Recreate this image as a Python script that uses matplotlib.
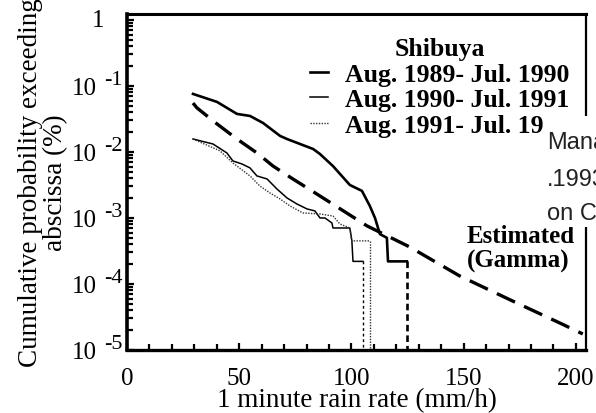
import matplotlib

matplotlib.use("Agg")
import matplotlib.pyplot as plt
from matplotlib.lines import Line2D
from matplotlib.patches import Rectangle
from matplotlib.ticker import FixedLocator, LogLocator, MultipleLocator, NullFormatter

plt.rcParams["font.family"] = ["Liberation Serif", "DejaVu Serif"]

# measured 1-minute rain rate exceedance, Shibuya
rate_8990 = [29.4, 40.1, 49.0, 54.8, 60.6, 68.2, 71.3, 77.1, 82.9, 86.0, 91.8, 99.3,
             104.7, 108.2, 110.5, 112.7, 115.8, 116.3, 124.7]
prob_8990 = [0.0757, 0.0573, 0.0377, 0.0351, 0.0275, 0.0175, 0.0157, 0.0132, 0.0111,
             0.0093, 0.0061, 0.00316, 0.00257, 0.00152, 0.0010, 0.00057, 0.0005,
             0.00022, 0.00022]

rate_9091 = [29.4, 38.3, 44.5, 47.2, 51.2, 54.8, 57.9, 62.4, 66.8, 71.3, 75.7, 80.2,
             83.7, 86.0, 88.2, 91.3, 91.8, 99.3, 100.2, 100.7, 105.1]
prob_9091 = [0.0157, 0.0132, 0.00966, 0.0073, 0.00658, 0.00573, 0.00433, 0.0039,
             0.00275, 0.00201, 0.00163, 0.00137, 0.00128, 0.0010, 0.0010, 0.00084,
             0.000705, 0.000705, 0.000449, 0.00022, 0.00022]

rate_9192 = [29.4, 41.4, 47.2, 54.8, 59.2, 63.7, 68.2, 72.6, 78.4, 86.0, 91.8, 94.9,
             99.3, 100.2, 108.2]
prob_9192 = [0.0157, 0.0104, 0.0068, 0.00433, 0.00305, 0.00239, 0.00194, 0.00152,
             0.00119, 0.00115, 0.00107, 0.00081, 0.000705, 0.00045, 0.00045]

# estimated gamma fit
rate_est = [29.4, 31.2, 40.1, 49.0, 57.9, 65.0, 73.9, 82.4, 106.9, 126.0, 148.3,
            173.7, 192.9, 203.1]
prob_est = [0.055, 0.0464, 0.0266, 0.0157, 0.00966, 0.00614, 0.0039, 0.00257,
            0.00076, 0.000363, 0.000132, 5.15e-5, 2.56e-5, 1.75e-5]

labels = ["Aug. 1989- Jul. 1990", "Aug. 1990- Jul. 1991", "Aug. 1991- Jul. 1992"]
y_ticks = [1e-5, 1e-4, 1e-3, 1e-2, 1e-1, 1]
y_exponents = ["-5", "-4", "-3", "-2", "-1", ""]
x_ticks = [0, 50, 100, 150, 200]

fig = plt.figure(figsize=(5.96, 4.14), dpi=100)
ax = fig.add_axes([0.2131, 0.1522, 0.770, 0.8116])
ax.set_yscale("log")
ymin = 1e-5

ax.plot(rate_8990, prob_8990, color="black", lw=1.9)
ax.plot([rate_8990[-1]] * 2, [prob_8990[-1], ymin], color="black", lw=1.9, dashes=(2.5, 1.5))
ax.plot(rate_9091, prob_9091, color="black", lw=1.1)
ax.plot([rate_9091[-1]] * 2, [prob_9091[-1], ymin], color="black", lw=1.0, dashes=(2, 2))
ax.plot(rate_9192, prob_9192, color="#333333", lw=1.0, ls=(0, (1, 1)))
ax.plot([rate_9192[-1]] * 2, [prob_9192[-1], ymin], color="#333333", lw=1.0, ls=(0, (1, 1)))
ax.plot(rate_est, prob_est, color="black", lw=2.4, dashes=(6, 3))

ax.set_xlim(0, 204.5)
ax.set_ylim(ymin, 1.23)
ax.xaxis.set_major_locator(FixedLocator(x_ticks))
ax.xaxis.set_minor_locator(MultipleLocator(10))
ax.yaxis.set_major_locator(FixedLocator(y_ticks))
ax.yaxis.set_minor_locator(LogLocator(base=10, subs=range(2, 10), numticks=20))
ax.yaxis.set_minor_formatter(NullFormatter())
ax.tick_params(which="both", direction="in", width=1.6, top=False, right=False)
ax.tick_params(which="major", length=5)
ax.tick_params(which="minor", length=4)
ax.tick_params(axis="x", pad=12, labelsize=18)
ax.tick_params(axis="y", labelleft=False)
for side, lw in [("left", 2.6), ("bottom", 2.4), ("top", 2.2), ("right", 1.6)]:
    ax.spines[side].set_linewidth(lw)

# y tick labels written as "10" with a near full size raised exponent, as in the scan
ytrans = ax.get_yaxis_transform()
for tick, exp in zip(y_ticks, y_exponents):
    if not exp:
        ax.annotate("1", xy=(0, tick), xycoords=ytrans, xytext=(-16, 0),
                    textcoords="offset points", ha="right", va="center", fontsize=18)
        continue
    ax.annotate("10", xy=(0, tick), xycoords=ytrans, xytext=(-21.5, -1.5),
                textcoords="offset points", ha="right", va="center", fontsize=18)
    ax.annotate(exp, xy=(0, tick), xycoords=ytrans, xytext=(-3.2, 4.5),
                textcoords="offset points", ha="right", va="center", fontsize=16)

ax.set_xlabel("1 minute rain rate (mm/h)", fontsize=19.5, labelpad=-1)
ax.set_ylabel("Cumulative probability exceeding\nabscissa (%)", fontsize=19.5,
              linespacing=1.0)
ax.yaxis.set_label_coords(-0.128, 0.5)

handles = [
    Line2D([], [], color="black", lw=1.9),
    Line2D([], [], color="black", lw=1.1),
    Line2D([], [], color="#333333", lw=1.0, ls=(0, (1, 1))),
]
leg = ax.legend(handles, labels, title="Shibuya", loc="upper left",
                bbox_to_anchor=(310 / 596, 1 - 38 / 414), bbox_transform=fig.transFigure,
                frameon=False, borderpad=0, borderaxespad=0, handlelength=0.7,
                handletextpad=0.65, labelspacing=0.1,
                prop={"family": "Liberation Serif", "weight": "bold", "size": 18.5},
                title_fontproperties={"family": "Liberation Serif", "weight": "bold",
                                      "size": 18.5})

ax.text(151.5, 3.5e-4, "Estimated\n(Gamma)", fontsize=18, fontweight="bold",
        ha="left", va="center", linespacing=1.1)

# pasted caption fragment covering the right edge
fig.patches.append(Rectangle((543 / 596, 1 - 228 / 414), 53 / 596, 111 / 414,
                             transform=fig.transFigure, facecolor="white",
                             edgecolor="none", zorder=5))
for line, base in [("Mana", 149), (".1993", 186), ("on C", 220)]:
    fig.text(547 / 596, 1 - base / 414, line, fontsize=17, family="Liberation Sans",
             color="#222222", va="baseline", ha="left", zorder=6)

fig.savefig("out.png", dpi=100)
